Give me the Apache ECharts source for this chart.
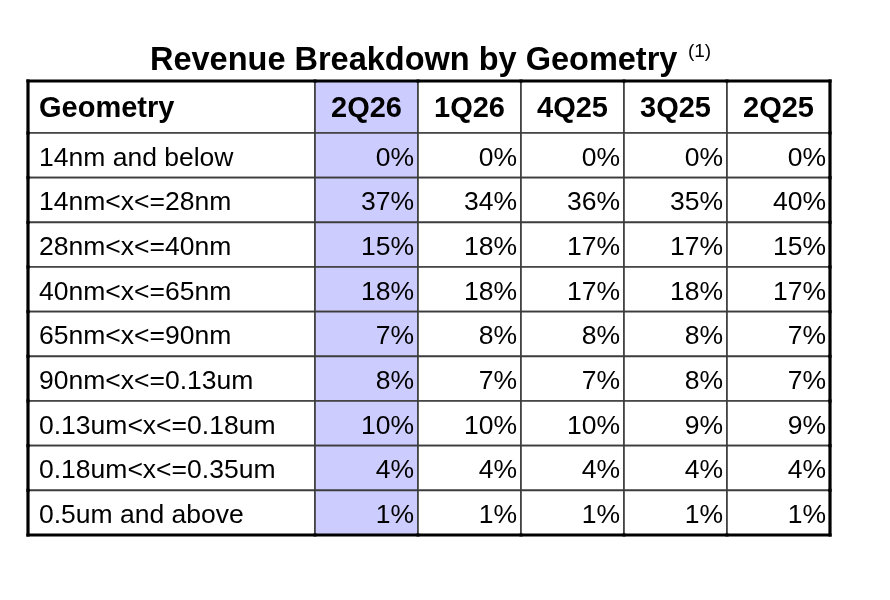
<!DOCTYPE html>
<html>
<head>
<meta charset="utf-8">
<script src="https://cdn.jsdelivr.net/npm/echarts@6/dist/echarts.min.js"></script>
<style>
  html, body { margin: 0; padding: 0; background: #fff; }
  #Table { width: 890px; height: 600px; }
</style>
</head>
<body>
<div id="Table"></div>
<script>
var headerLabel = 'Geometry';
var geometries = ['14nm and below', '14nm<x<=28nm', '28nm<x<=40nm', '40nm<x<=65nm',
    '65nm<x<=90nm', '90nm<x<=0.13um', '0.13um<x<=0.18um', '0.18um<x<=0.35um', '0.5um and above'];
var quarters = ['2Q26', '1Q26', '4Q25', '3Q25', '2Q25'];
var v2Q26 = [0, 37, 15, 18, 7, 8, 10, 4, 1];
var v1Q26 = [0, 34, 18, 18, 8, 7, 10, 4, 1];
var v4Q25 = [0, 36, 17, 17, 8, 7, 10, 4, 1];
var v3Q25 = [0, 35, 17, 18, 8, 8, 9, 4, 1];
var v2Q25 = [0, 40, 15, 17, 7, 7, 9, 4, 1];
var highlight = '2Q26';

var FONT = '"Liberation Sans", Arial, Helvetica, sans-serif';
var LINE = '#3c3c3c';
var LAVENDER = '#ccccff';

showTable();

function showTable() {
    var chart = echarts.init(document.getElementById('Table'));
    var values = [v2Q26, v1Q26, v4Q25, v3Q25, v2Q25];

    var headData = quarters.map(function (q, i) { return [i, 0, q]; });
    var bodyData = [];
    values.forEach(function (col, qi) {
        col.forEach(function (v, ri) { bodyData.push([qi, ri, v + '%']); });
    });
    var labelData = geometries.map(function (g, ri) { return [0, ri, g]; });

    // one table cell per data item, outer frame drawn thicker
    function cell(opts) {
        return function (params, api) {
            var xi = api.value(0), yi = api.value(1);
            var c = api.coord([xi, yi]);
            var s = api.size([1, 1]);
            var x0 = c[0] - s[0] / 2, y0 = c[1] - s[1] / 2;
            var x1 = x0 + s[0], y1 = y0 + s[1];
            var text = opts.texts[params.dataIndex];
            var fill = (opts.cols && opts.cols[xi] === highlight) ? LAVENDER : '#fff';
            var tx, align;
            if (opts.align === 'left') { tx = x0 + 11; align = 'left'; }
            else if (opts.align === 'center') { tx = c[0]; align = 'center'; }
            else { tx = x1 - 4; align = 'right'; }
            var kids = [{
                type: 'rect',
                shape: { x: x0, y: y0, width: s[0], height: s[1] },
                style: { fill: fill, stroke: LINE, lineWidth: 1.6 }
            }, {
                type: 'text',
                z2: 5,
                style: {
                    text: text, x: tx, y: c[1] + opts.dy,
                    align: align, verticalAlign: 'middle',
                    fontFamily: FONT, fontSize: opts.size, fontWeight: opts.bold ? 'bold' : 'normal',
                    fill: '#000'
                }
            }];
            var edges = [];
            if (opts.top) edges.push([x0, y0, x1, y0]);
            if (opts.bottom && yi === opts.lastRow) edges.push([x0, y1, x1, y1]);
            if (opts.left) edges.push([x0, y0, x0, y1]);
            if (opts.right && xi === quarters.length - 1) edges.push([x1, y0, x1, y1]);
            edges.forEach(function (e) {
                kids.push({
                    type: 'line', z2: 10,
                    shape: { x1: e[0], y1: e[1], x2: e[2], y2: e[3] },
                    style: { stroke: '#000', lineWidth: 3.2, lineCap: 'square' }
                });
            });
            return { type: 'group', children: kids };
        };
    }

    function catAxis(data, grid, inverse) {
        return {
            type: 'category', gridIndex: grid, data: data, inverse: !!inverse,
            show: false
        };
    }

    var option = {
        animation: false,
        title: {
            text: '{t|Revenue Breakdown by Geometry}{s|  (1)}',
            left: 145,
            top: 37,
            textStyle: {
                rich: {
                    t: { fontFamily: FONT, fontSize: 32.5, fontWeight: 'bold', color: '#000', lineHeight: 38 },
                    s: { fontFamily: FONT, fontSize: 19, fontWeight: 'normal', color: '#000', verticalAlign: 'top', lineHeight: 38 }
                }
            }
        },
        grid: [
            { left: 28, top: 81, width: 287, height: 52 },
            { left: 315, top: 81, width: 515, height: 52 },
            { left: 28, top: 133, width: 287, height: 402 },
            { left: 315, top: 133, width: 515, height: 402 }
        ],
        xAxis: [
            catAxis([headerLabel], 0),
            catAxis(quarters, 1),
            catAxis([headerLabel], 2),
            catAxis(quarters, 3)
        ],
        yAxis: [
            catAxis(['head'], 0),
            catAxis(['head'], 1),
            catAxis(geometries, 2, true),
            catAxis(geometries, 3, true)
        ],
        series: [
            {
                type: 'custom', xAxisIndex: 0, yAxisIndex: 0,
                data: [[0, 0, headerLabel]],
                renderItem: cell({ texts: [headerLabel], align: 'left', bold: true, size: 29, dy: 2, top: true, left: true })
            },
            {
                type: 'custom', xAxisIndex: 1, yAxisIndex: 1,
                data: headData,
                renderItem: cell({ texts: quarters, cols: quarters, align: 'center', bold: true, size: 29, dy: 2, top: true, right: true })
            },
            {
                type: 'custom', xAxisIndex: 2, yAxisIndex: 2,
                data: labelData,
                renderItem: cell({ texts: geometries, align: 'left', size: 26.5, dy: 3, left: true, bottom: true, lastRow: geometries.length - 1 })
            },
            {
                type: 'custom', xAxisIndex: 3, yAxisIndex: 3,
                data: bodyData,
                renderItem: cell({ texts: bodyData.map(function (d) { return d[2]; }), cols: quarters, align: 'right', size: 26.5, dy: 3, right: true, bottom: true, lastRow: geometries.length - 1 })
            }
        ]
    };
    chart.setOption(option);
}
</script>
</body>
</html>
